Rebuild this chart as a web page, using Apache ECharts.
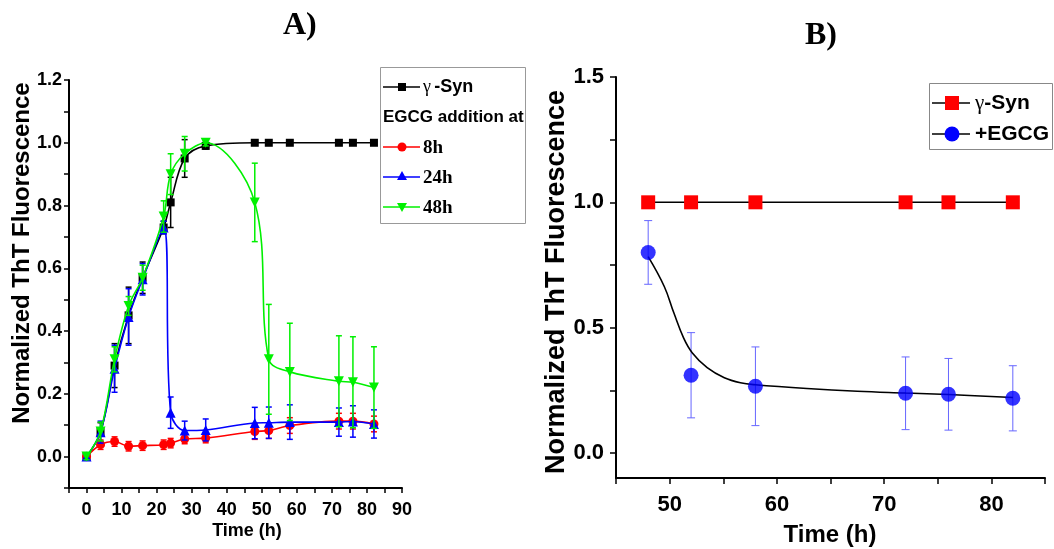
<!DOCTYPE html>
<html>
<head>
<meta charset="utf-8">
<script src="https://cdn.jsdelivr.net/npm/echarts@6/dist/echarts.min.js"></script>
<style>html,body{margin:0;padding:0;background:#fff}#c{width:1054px;height:549px}</style>
</head>
<body>
<div id="c"></div>
<script>
// ---------- Panel A data ----------
var timesA = [0, 4, 8, 12, 16, 22, 24, 28, 34, 48, 52, 58, 72, 76, 82];
var synA    = [0, 0.078, 0.29, 0.45, 0.57, 0.73, 0.81, 0.95, 0.99, 1, 1, 1, 1, 1, 1];
var synAErr = [0.01, 0.03, 0.07, 0.09, 0.05, 0.02, 0.08, 0.06, 0.01, 0, 0, 0, 0, 0, 0];
var h8      = [0, 0.038, 0.048, 0.033, 0.035, 0.038, 0.043, 0.056, 0.059, 0.08, 0.083, 0.099, 0.113, 0.113, 0.104];
var h8Err   = [0.01, 0.015, 0.015, 0.015, 0.015, 0.015, 0.015, 0.015, 0.015, 0.025, 0.025, 0.025, 0.025, 0.025, 0.025];
var h24     = [0, 0.078, 0.28, 0.445, 0.565, 0.73, 0.14, 0.083, 0.085, 0.107, 0.108, 0.11, 0.11, 0.112, 0.104];
var h24Err  = [0.01, 0.035, 0.075, 0.09, 0.05, 0.02, 0.05, 0.03, 0.035, 0.05, 0.05, 0.055, 0.045, 0.05, 0.045];
var h48     = [0, 0.08, 0.31, 0.48, 0.57, 0.765, 0.90, 0.965, 1.0, 0.81, 0.31, 0.27, 0.24, 0.237, 0.22];
var h48Err  = [0.01, 0.03, 0.04, 0.03, 0.04, 0.05, 0.065, 0.055, 0.01, 0.125, 0.175, 0.155, 0.145, 0.145, 0.13];

// ---------- Panel B data ----------
var timesB   = [48, 52, 58, 72, 76, 82];
var synB     = [1, 1, 1, 1, 1, 1];
var egcgB    = [0.80, 0.31, 0.266, 0.238, 0.234, 0.218];
var egcgBErr = [0.127, 0.17, 0.157, 0.145, 0.143, 0.13];
// fitted decay curve
var fitTimes = [48, 49.5, 50.4, 51.3, 52.1, 53.5, 55.1, 56.6, 58, 62.8, 67.5, 72, 76, 82];
var fitVals  = [0.783, 0.664, 0.558, 0.459, 0.40, 0.34, 0.30, 0.28, 0.272, 0.257, 0.246, 0.239, 0.233, 0.221];

// ---------- tick labels ----------
var xTicksA = [0, 10, 20, 30, 40, 50, 60, 70, 80, 90];
var yTicksA = [0.0, 0.2, 0.4, 0.6, 0.8, 1.0, 1.2];
var xTicksB = [50, 60, 70, 80];
var yTicksB = [0.0, 0.5, 1.0, 1.5];

function pairs(xs, ys) { return xs.map(function (x, i) { return [x, ys[i]]; }); }

function errSeries(xs, ys, es, color, axisIdx, lw, capW, z) {
  return {
    type: 'custom', xAxisIndex: axisIdx, yAxisIndex: axisIdx, silent: true, z: z,
    data: xs.map(function (x, i) { return [x, ys[i], es[i]]; }),
    encode: { x: 0, y: 1 },
    renderItem: function (params, api) {
      var x = api.value(0), y = api.value(1), e = api.value(2);
      if (!e) return { type: 'group', children: [] };
      var t = api.coord([x, y + e]), b = api.coord([x, y - e]), h = capW / 2;
      var st = { stroke: color, lineWidth: lw };
      return { type: 'group', children: [
        { type: 'line', shape: { x1: t[0], y1: t[1], x2: b[0], y2: b[1] }, style: st },
        { type: 'line', shape: { x1: t[0] - h, y1: t[1], x2: t[0] + h, y2: t[1] }, style: st },
        { type: 'line', shape: { x1: b[0] - h, y1: b[1], x2: b[0] + h, y2: b[1] }, style: st }
      ] };
    }
  };
}

function lineSeries(xs, ys, color, symbol, size, rot, z) {
  return {
    type: 'line', xAxisIndex: 0, yAxisIndex: 0, data: pairs(xs, ys), smooth: 0.35,
    symbol: symbol, symbolSize: size, symbolRotate: rot || 0, showSymbol: true,
    lineStyle: { color: color, width: 1.6 }, itemStyle: { color: color }, z: z, silent: true
  };
}

var SANS = '"Liberation Sans", Arial, sans-serif';
var SERIF = '"Liberation Serif", "Times New Roman", serif';
var axisLine = { show: true, onZero: false, lineStyle: { color: '#000', width: 2 } };
var GREEN = '#00f000';

var chart = echarts.init(document.getElementById('c'), null, { renderer: 'canvas' });
chart.setOption({
  animation: false,
  backgroundColor: '#fff',
  grid: [
    { left: 69, top: 80, width: 333, height: 408 },
    { left: 616, top: 77, width: 429, height: 401 }
  ],
  xAxis: [
    { type: 'value', gridIndex: 0, min: -5, max: 90, interval: 5,
      axisLine: axisLine, splitLine: { show: false },
      axisTick: { show: true, inside: false, length: 5, lineStyle: { color: '#000', width: 1.5 } },
      axisLabel: { margin: 13, fontFamily: SANS, fontWeight: 'bold', fontSize: 18, color: '#000',
        formatter: function (v) { return xTicksA.indexOf(v) >= 0 ? String(v) : ''; } } },
    { type: 'value', gridIndex: 1, min: 45, max: 85, interval: 5,
      axisLine: axisLine, splitLine: { show: false },
      axisTick: { show: true, inside: false, length: 6, lineStyle: { color: '#000', width: 1.5 } },
      axisLabel: { margin: 16, fontFamily: SANS, fontWeight: 'bold', fontSize: 22, color: '#000',
        formatter: function (v) { return xTicksB.indexOf(v) >= 0 ? String(v) : ''; } } }
  ],
  yAxis: [
    { type: 'value', gridIndex: 0, min: -0.1, max: 1.2, interval: 0.1,
      axisLine: axisLine, splitLine: { show: false },
      axisTick: { show: true, inside: false, length: 5, lineStyle: { color: '#000', width: 1.5 } },
      axisLabel: { margin: 7, fontFamily: SANS, fontWeight: 'bold', fontSize: 18, color: '#000',
        formatter: function (v) {
          var r = Math.round(v * 10) / 10;
          return yTicksA.some(function (t) { return Math.abs(t - r) < 1e-6; }) ? r.toFixed(1) : '';
        } } },
    { type: 'value', gridIndex: 1, min: -0.1, max: 1.5,
      axisLine: axisLine, splitLine: { show: false },
      axisTick: { show: true, inside: false, length: 6, lineStyle: { color: '#000', width: 1.5 },
        customValues: [0, 0.25, 0.5, 0.75, 1.0, 1.25, 1.5] },
      axisLabel: { margin: 12, fontFamily: SANS, fontWeight: 'bold', fontSize: 22, color: '#000',
        customValues: yTicksB, formatter: function (v) { return Number(v).toFixed(1); } } }
  ],
  series: [
    // Panel A
    errSeries(timesA, synA, synAErr, '#000', 0, 1.5, 6, 2),
    lineSeries(timesA, synA, '#000', 'rect', 8, 0, 3),
    errSeries(timesA, h8, h8Err, '#ff0000', 0, 1.5, 6, 4),
    lineSeries(timesA, h8, '#ff0000', 'circle', 9, 0, 5),
    errSeries(timesA, h24, h24Err, '#0000ff', 0, 1.5, 6, 6),
    lineSeries(timesA, h24, '#0000ff', 'triangle', 10, 0, 7),
    errSeries(timesA, h48, h48Err, GREEN, 0, 1.5, 6, 8),
    lineSeries(timesA, h48, GREEN, 'triangle', 10, 180, 9),
    // Panel B
    { type: 'line', xAxisIndex: 1, yAxisIndex: 1, data: pairs(timesB, synB), symbol: 'rect', symbolSize: 14,
      lineStyle: { color: '#000', width: 1.5 }, itemStyle: { color: '#ff0000' }, z: 3, silent: true },
    errSeries(timesB, egcgB, egcgBErr, '#6666ff', 1, 1, 8, 2),
    { type: 'line', xAxisIndex: 1, yAxisIndex: 1, data: pairs(fitTimes, fitVals), smooth: 0.4, showSymbol: false, symbol: 'none',
      lineStyle: { color: '#000', width: 1.6 }, z: 3, silent: true },
    { type: 'scatter', xAxisIndex: 1, yAxisIndex: 1, data: pairs(timesB, egcgB), symbol: 'circle', symbolSize: 15,
      itemStyle: { color: '#0000ff' }, z: 4, silent: true }
  ],
  graphic: [
    // titles
    { type: 'text', left: 283, top: 10, style: { text: 'A)', font: 'bold 32px ' + SERIF, fill: '#000' } },
    { type: 'text', left: 805, top: 20, style: { text: 'B)', font: 'bold 32px ' + SERIF, fill: '#000' } },
    // axis names
    { type: 'text', x: 22, y: 253, rotation: Math.PI / 2, style: { text: 'Normalized ThT Fluorescence', font: 'bold 24px ' + SANS, fill: '#000', align: 'center', verticalAlign: 'middle' } },
    { type: 'text', x: 247, y: 531, style: { text: 'Time (h)', font: 'bold 18px ' + SANS, fill: '#000', align: 'center', verticalAlign: 'middle' } },
    { type: 'text', x: 557, y: 282, rotation: Math.PI / 2, style: { text: 'Normalized ThT Fluorescence', font: 'bold 27px ' + SANS, fill: '#000', align: 'center', verticalAlign: 'middle' } },
    { type: 'text', x: 830, y: 535, style: { text: 'Time (h)', font: 'bold 24px ' + SANS, fill: '#000', align: 'center', verticalAlign: 'middle' } },
    // legend A
    { type: 'rect', shape: { x: 380.5, y: 67.5, width: 145, height: 156 }, style: { fill: '#fff', stroke: '#999', lineWidth: 1 }, z: 20 },
    { type: 'line', shape: { x1: 383, y1: 87, x2: 420, y2: 87 }, style: { stroke: '#000', lineWidth: 1.6 }, z: 21 },
    { type: 'rect', shape: { x: 398, y: 83, width: 8, height: 8 }, style: { fill: '#000' }, z: 22 },
    { type: 'text', x: 423, y: 87, z: 21, style: { text: '{g|γ} {s|-Syn}', verticalAlign: 'middle', fill: '#000',
        rich: { g: { font: '18px ' + SERIF, fill: '#000' }, s: { font: 'bold 18px ' + SANS, fill: '#000' } } } },
    { type: 'text', x: 383, y: 117, z: 21, style: { text: 'EGCG addition at', font: 'bold 17px ' + SANS, fill: '#000', verticalAlign: 'middle' } },
    { type: 'line', shape: { x1: 383, y1: 147, x2: 420, y2: 147 }, style: { stroke: '#ff0000', lineWidth: 1.6 }, z: 21 },
    { type: 'circle', shape: { cx: 402, cy: 147, r: 4.5 }, style: { fill: '#ff0000' }, z: 22 },
    { type: 'text', x: 423, y: 148, z: 21, style: { text: '8h', font: 'bold 19px ' + SERIF, fill: '#000', verticalAlign: 'middle' } },
    { type: 'line', shape: { x1: 383, y1: 177, x2: 420, y2: 177 }, style: { stroke: '#0000ff', lineWidth: 1.6 }, z: 21 },
    { type: 'polygon', shape: { points: [[402, 171], [397, 180], [407, 180]] }, style: { fill: '#0000ff' }, z: 22 },
    { type: 'text', x: 423, y: 178, z: 21, style: { text: '24h', font: 'bold 19px ' + SERIF, fill: '#000', verticalAlign: 'middle' } },
    { type: 'line', shape: { x1: 383, y1: 207, x2: 420, y2: 207 }, style: { stroke: GREEN, lineWidth: 1.6 }, z: 21 },
    { type: 'polygon', shape: { points: [[397, 203], [407, 203], [402, 212]] }, style: { fill: GREEN }, z: 22 },
    { type: 'text', x: 423, y: 208, z: 21, style: { text: '48h', font: 'bold 19px ' + SERIF, fill: '#000', verticalAlign: 'middle' } },
    // legend B
    { type: 'rect', shape: { x: 929.5, y: 83.5, width: 123, height: 66 }, style: { fill: '#fff', stroke: '#888', lineWidth: 1 }, z: 20 },
    { type: 'line', shape: { x1: 932, y1: 103, x2: 970, y2: 103 }, style: { stroke: '#000', lineWidth: 1.5 }, z: 21 },
    { type: 'rect', shape: { x: 945, y: 96, width: 14, height: 14 }, style: { fill: '#ff0000' }, z: 22 },
    { type: 'text', x: 975, y: 103, z: 21, style: { text: '{g|γ}{s|-Syn}', verticalAlign: 'middle', fill: '#000',
        rich: { g: { font: '21px ' + SERIF, fill: '#000' }, s: { font: 'bold 21px ' + SANS, fill: '#000' } } } },
    { type: 'line', shape: { x1: 932, y1: 134, x2: 970, y2: 134 }, style: { stroke: '#000', lineWidth: 1.5 }, z: 21 },
    { type: 'circle', shape: { cx: 952, cy: 134, r: 7.5 }, style: { fill: '#0000ff' }, z: 22 },
    { type: 'text', x: 975, y: 134, z: 21, style: { text: '+EGCG', font: 'bold 21px ' + SANS, fill: '#000', verticalAlign: 'middle' } }
  ]
});
</script>
</body>
</html>
